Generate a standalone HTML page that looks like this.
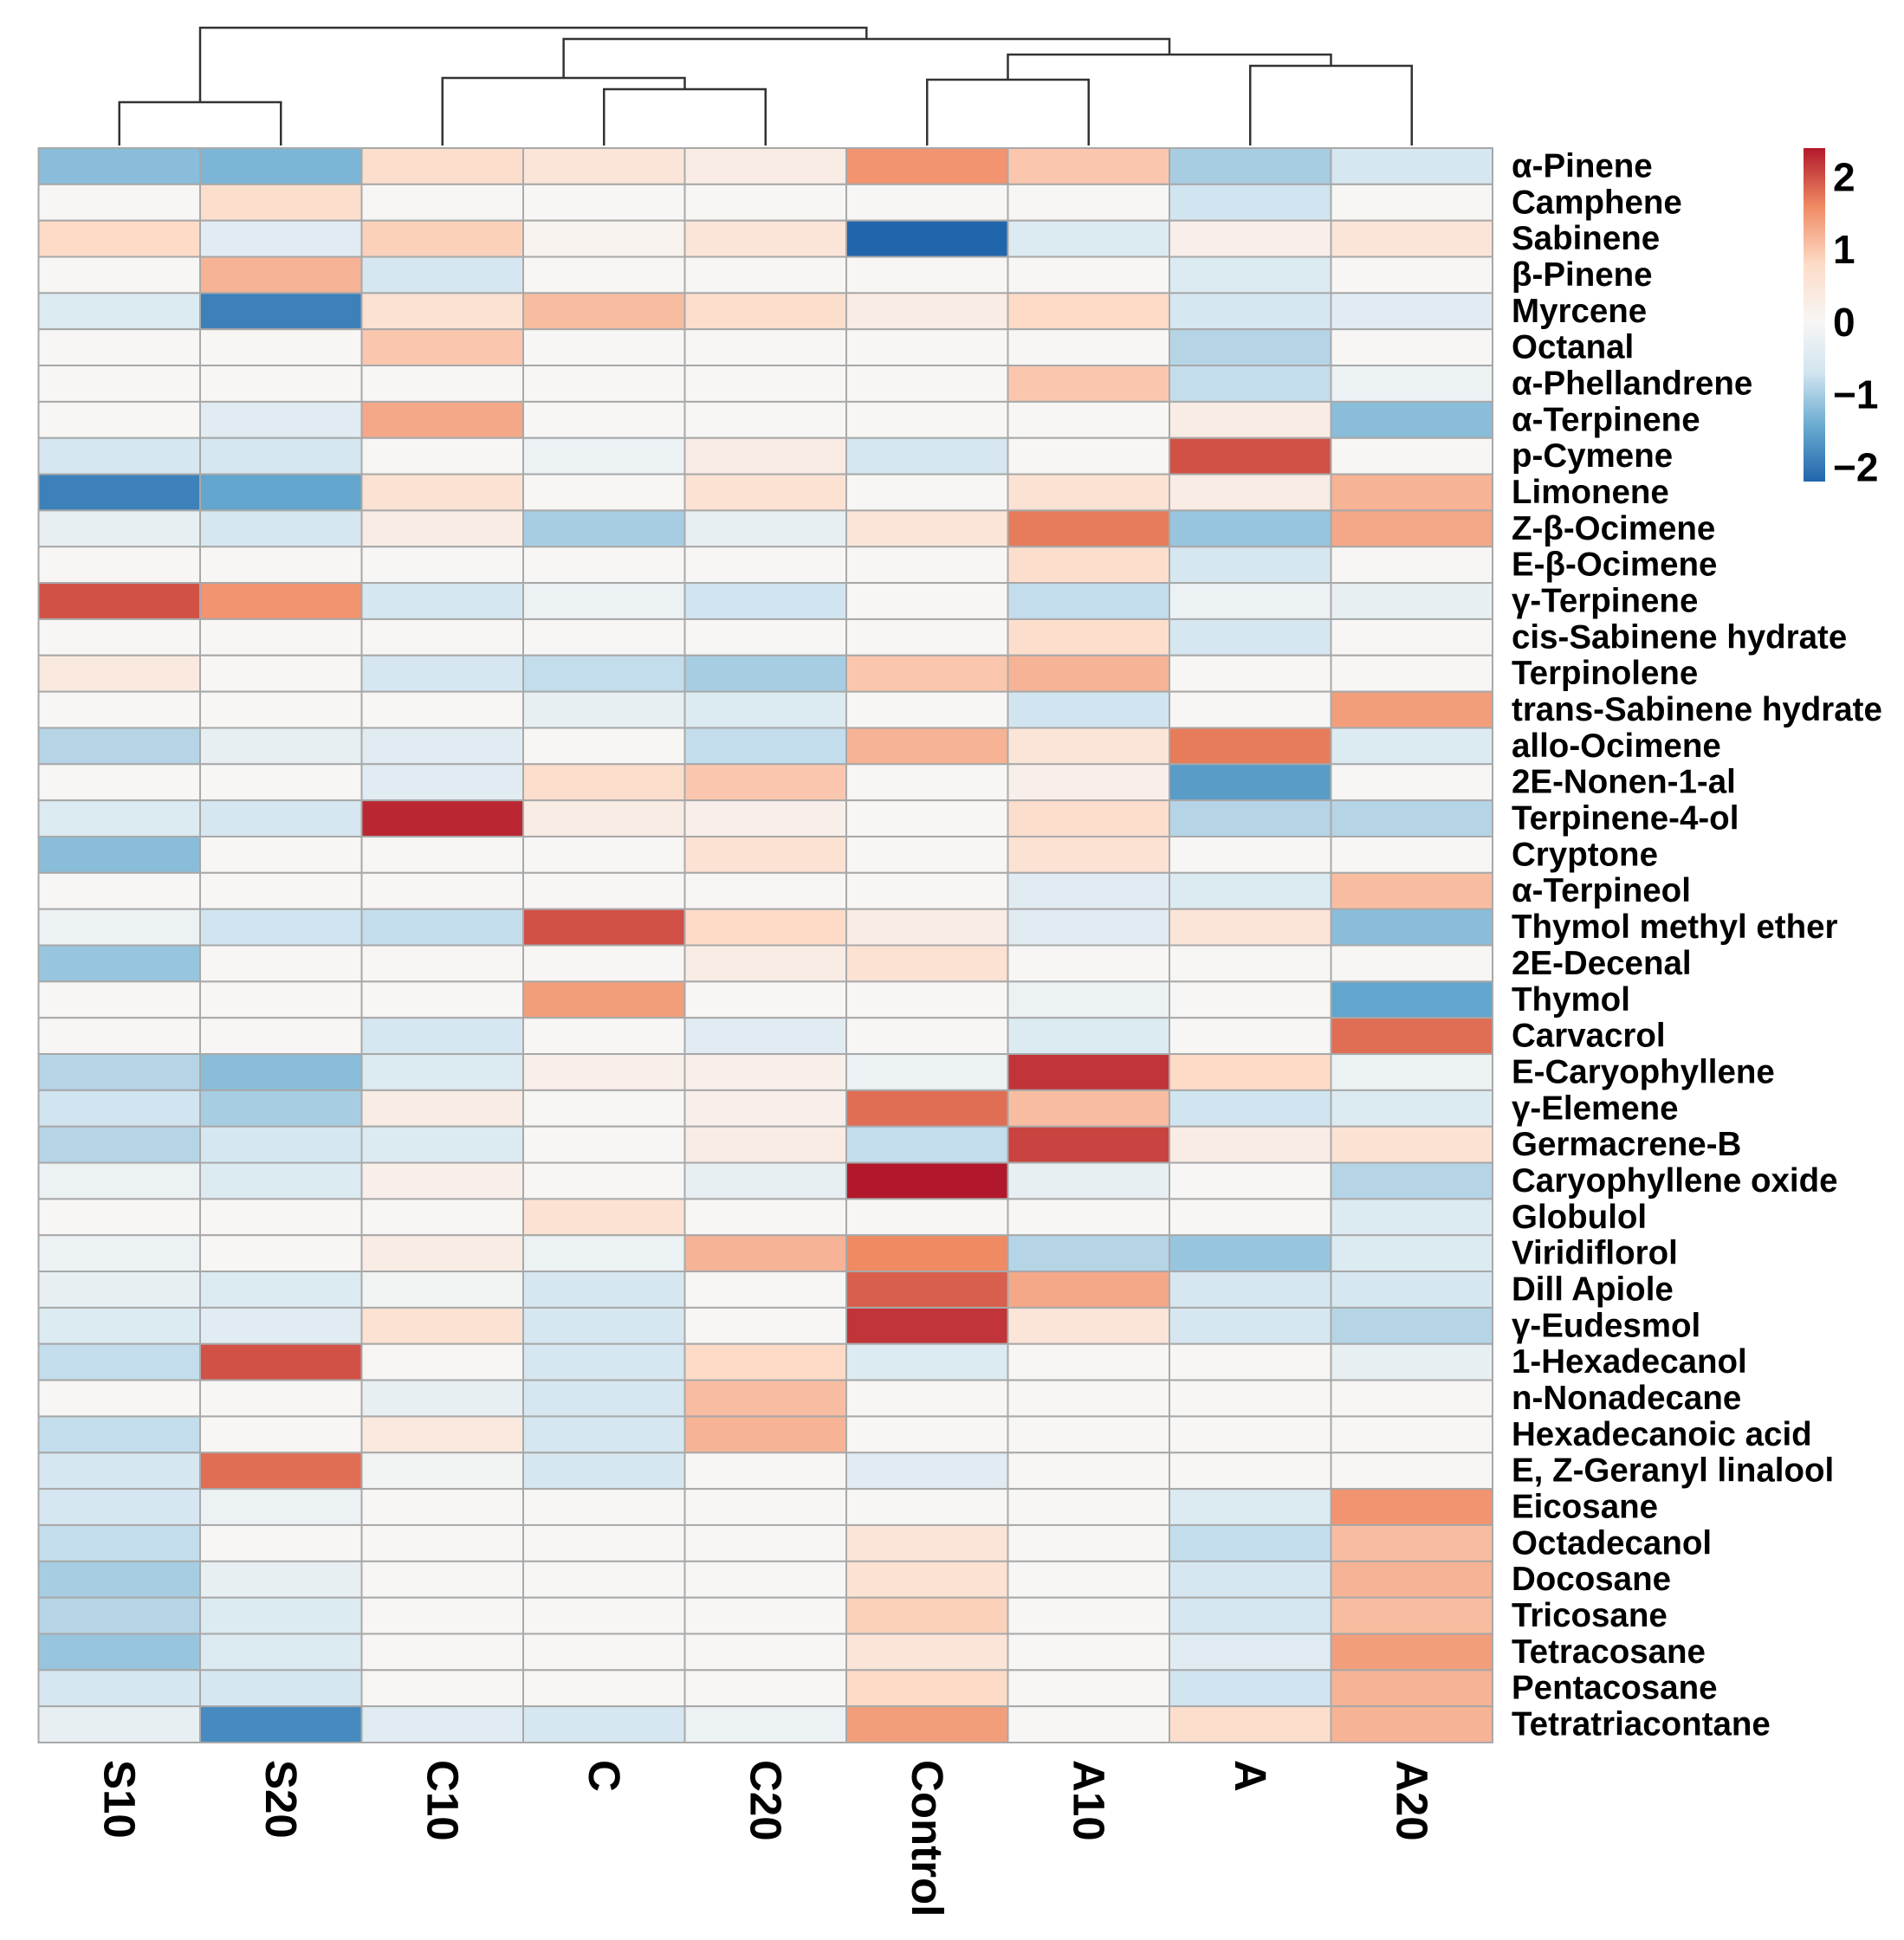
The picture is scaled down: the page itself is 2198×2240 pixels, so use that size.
<!DOCTYPE html>
<html><head><meta charset="utf-8"><style>
body{margin:0;background:#fff}
svg{display:block;font-family:"Liberation Sans",Arial,sans-serif;font-weight:bold}
</style></head><body>
<svg id="chart" width="2198" height="2240" viewBox="0 0 2198 2240"></svg>
<script>
const columns=["S10","S20","C10","C","C20","Control","A10","A","A20"];
const rows=["α-Pinene","Camphene","Sabinene","β-Pinene","Myrcene","Octanal","α-Phellandrene","α-Terpinene","p-Cymene","Limonene","Z-β-Ocimene","E-β-Ocimene","γ-Terpinene","cis-Sabinene hydrate","Terpinolene","trans-Sabinene hydrate","allo-Ocimene","2E-Nonen-1-al","Terpinene-4-ol","Cryptone","α-Terpineol","Thymol methyl ether","2E-Decenal","Thymol","Carvacrol","E-Caryophyllene","γ-Elemene","Germacrene-B","Caryophyllene oxide","Globulol","Viridiflorol","Dill Apiole","γ-Eudesmol","1-Hexadecanol","n-Nonadecane","Hexadecanoic acid","E, Z-Geranyl linalool","Eicosane","Octadecanol","Docosane","Tricosane","Tetracosane","Pentacosane","Tetratriacontane"];
const values=[
[-1.2,-1.3,0.7,0.5,0.3,1.5,1.0,-1.0,-0.6],
[0,0.7,0,0,0,0,0,-0.7,0],
[0.8,-0.4,0.9,0.1,0.5,-2.2,-0.5,0.2,0.5],
[0,1.2,-0.6,0,0,0,0,-0.5,0],
[-0.5,-1.9,0.6,1.1,0.7,0.3,0.8,-0.6,-0.4],
[0,0,1.0,0,0,0,0,-0.9,0],
[0,0,0,0,0,0,1.0,-0.8,-0.2],
[0,-0.4,1.3,0,0,0,0,0.3,-1.2],
[-0.6,-0.6,0,-0.2,0.3,-0.6,0,2.0,0],
[-1.9,-1.5,0.6,0,0.6,0,0.6,0.3,1.2],
[-0.3,-0.6,0.3,-1.0,-0.3,0.5,1.7,-1.1,1.3],
[0,0,0,0,0,0,0.7,-0.6,0],
[2.0,1.5,-0.6,-0.2,-0.7,0,-0.8,-0.2,-0.3],
[0,0,0,0,0,0,0.7,-0.6,0],
[0.4,0,-0.6,-0.8,-1.0,1.0,1.2,0,0],
[0,0,0,-0.3,-0.5,0,-0.7,0,1.4],
[-0.9,-0.3,-0.4,0,-0.8,1.2,0.5,1.7,-0.5],
[0,0,-0.4,0.7,1.0,0,0.2,-1.6,0],
[-0.5,-0.6,2.3,0.3,0.2,0,0.7,-0.9,-0.9],
[-1.2,0,0,0,0.6,0,0.6,0,0],
[0,0,0,0,0,0,-0.4,-0.5,1.1],
[-0.2,-0.7,-0.8,2.0,0.8,0.3,-0.4,0.5,-1.2],
[-1.1,0,0,0,0.3,0.6,0,0,0],
[0,0,0,1.4,0,0,-0.2,0,-1.5],
[0,0,-0.6,0,-0.4,0,-0.5,0,1.8],
[-0.9,-1.2,-0.5,0.2,0.2,-0.2,2.2,0.8,-0.2],
[-0.7,-1.0,0.3,0,0.2,1.8,1.1,-0.7,-0.5],
[-0.9,-0.6,-0.5,0,0.3,-0.8,2.1,0.3,0.6],
[-0.2,-0.5,0.2,0,-0.3,2.4,-0.3,0,-0.9],
[0,0,0,0.6,0,0,0,0,-0.5],
[-0.2,0,0.3,-0.2,1.2,1.6,-0.9,-1.1,-0.5],
[-0.3,-0.5,-0.1,-0.6,0,1.9,1.3,-0.6,-0.6],
[-0.5,-0.4,0.6,-0.6,0,2.2,0.5,-0.6,-0.9],
[-0.8,2.0,0,-0.6,0.8,-0.5,0,0,-0.3],
[0,0,-0.3,-0.6,1.1,0,0,0,0],
[-0.8,0,0.4,-0.6,1.2,0,0,0,0],
[-0.6,1.8,-0.1,-0.6,0,-0.4,0,0,0],
[-0.6,-0.2,0,0,0,0,0,-0.5,1.5],
[-0.8,0,0,0,0,0.5,0,-0.8,1.1],
[-1.0,-0.3,0,0,0,0.6,0,-0.6,1.2],
[-0.9,-0.5,0,0,0,0.9,0,-0.6,1.1],
[-1.1,-0.5,0,0,0,0.5,0,-0.4,1.4],
[-0.6,-0.6,0,0,0,0.8,0,-0.7,1.2],
[-0.3,-1.8,-0.4,-0.6,-0.2,1.4,0,0.7,1.2]];
const legendTicks=[2,1,0,-1,-2];
const legendTickLabels=["2","1","0","−1","−2"];
// dendrogram merges: [leftNode, rightNode, height]; leaves are column indices 0..8, merges numbered 9+
const merges=[[0,1,118],[3,4,103],[2,10,90],[5,6,92],[7,8,76],[12,13,63],[11,14,45],[9,15,32]];

const NS="http://www.w3.org/2000/svg";
const svg=document.getElementById("chart");
const gx0=44.5,gx1=1723,gy0=171,gy1=2012;
const cw=(gx1-gx0)/columns.length, rh=(gy1-gy0)/rows.length;
const vmin=-2.2,vmax=2.4;
const stopVals=[-2.2,-1.45,-0.7,0,0.8,1.6,2.4];
const stops=["#2166AC","#67A9CF","#D1E5F0","#F7F6F5","#FDDBC7","#EF8A62","#B2182B"];
function hex(h){return [1,3,5].map(i=>parseInt(h.substr(i,2),16));}
function color(v){
  v=Math.max(vmin,Math.min(vmax,v));
  let i=0;while(i<stopVals.length-2&&v>stopVals[i+1])i++;
  const f=(v-stopVals[i])/(stopVals[i+1]-stopVals[i]);
  const a=hex(stops[i]),b=hex(stops[i+1]);
  return "rgb("+a.map((x,k)=>Math.round(x+(b[k]-x)*f)).join(",")+")";
}
function xs(j){return gx0+j*cw;}
function ys(i){return gy0+i*rh;}
function mk(tag,attrs){const e=document.createElementNS(NS,tag);for(const k in attrs)e.setAttribute(k,attrs[k]);svg.appendChild(e);return e;}

rows.forEach((r,i)=>{values[i].forEach((v,j)=>{
  const c=mk("rect",{x:xs(j),y:ys(i),width:cw,height:rh,fill:color(v),stroke:"#a8a8a8","stroke-width":2});
  
  
});});

rows.forEach((r,i)=>{
  const t=mk("text",{x:1745,y:ys(i)+rh/2,"font-size":38.5,"dominant-baseline":"central",fill:"#000"});
  t.textContent=r;
  
  
});
columns.forEach((c,j)=>{
  const cx=xs(j)+cw/2,y=2032;
  const t=mk("text",{x:cx,y:y,"font-size":51,"dominant-baseline":"central",transform:`rotate(90 ${cx} ${y})`,fill:"#000"});
  t.textContent=c;
  
  
});

const nodeX=columns.map((c,j)=>xs(j)+cw/2), nodeY=columns.map(()=>168);
merges.forEach(m=>{
  const [a,b,h]=m;
  const p=mk("path",{d:`M${nodeX[a]},${nodeY[a]}V${h}H${nodeX[b]}V${nodeY[b]}`,fill:"none",stroke:"#333","stroke-width":2.5});
  
  
  nodeX.push((nodeX[a]+nodeX[b])/2);nodeY.push(h);
});

const lx=2082,lw=25,ly0=171,ly1=556;
const defs=mk("defs",{});
const lg=document.createElementNS(NS,"linearGradient");
lg.setAttribute("id","lg");lg.setAttribute("x1","0");lg.setAttribute("y1","1");lg.setAttribute("x2","0");lg.setAttribute("y2","0");
stops.forEach((s,k)=>{const st=document.createElementNS(NS,"stop");st.setAttribute("offset",(stopVals[k]-vmin)/(vmax-vmin));st.setAttribute("stop-color",s);lg.appendChild(st);});
defs.appendChild(lg);
const bar=mk("rect",{x:lx,y:ly0,width:lw,height:ly1-ly0,fill:"url(#lg)"});


function ly(v){return ly1-(v-vmin)/(vmax-vmin)*(ly1-ly0);}
legendTicks.forEach((v,k)=>{
  const t=mk("text",{x:2116,y:ly(v),"font-size":46,"dominant-baseline":"central",fill:"#000"});
  t.textContent=legendTickLabels[k];
  
  
});
</script>
</body></html>
